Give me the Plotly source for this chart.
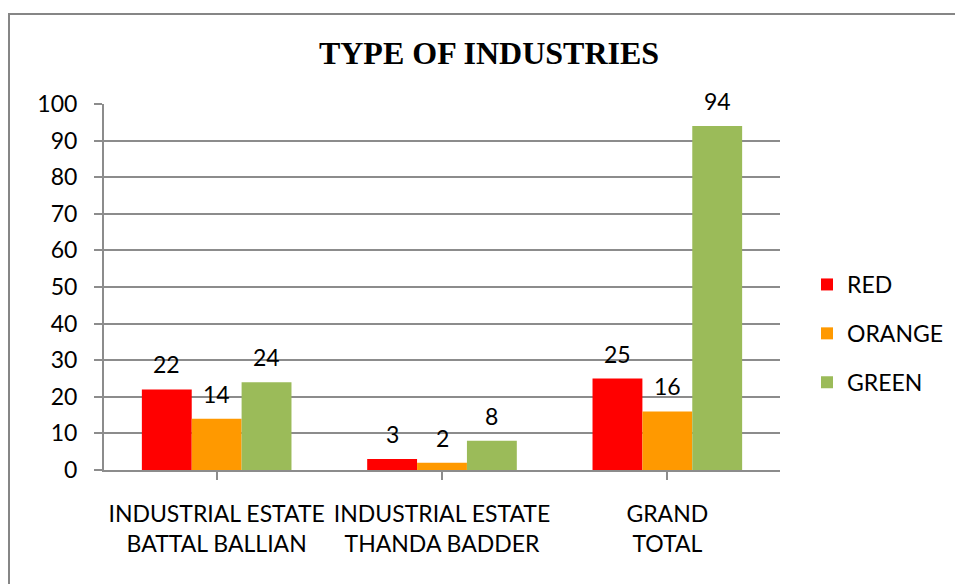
import plotly.graph_objects as go

# Chart data
categories = ["INDUSTRIAL ESTATE<br>BATTAL BALLIAN",
              "INDUSTRIAL ESTATE<br>THANDA BADDER",
              "GRAND<br>TOTAL"]
series_names = ["RED", "ORANGE", "GREEN"]
red_values = [22, 3, 25]
orange_values = [14, 2, 16]
green_values = [24, 8, 94]
y_ticks = [0, 10, 20, 30, 40, 50, 60, 70, 80, 90, 100]

colors = ["#FF0000", "#FF9900", "#9BBB59"]
all_values = [red_values, orange_values, green_values]

W, H = 955, 584
ML, MR, MT, MB = 104, 175, 104, 114
PW, PH = W - ML - MR, H - MT - MB

TXT = "Lato, 'Open Sans', sans-serif"
GRID = "#8C8C8C"

fig = go.Figure()
for i, (name, vals) in enumerate(zip(series_names, all_values)):
    fig.add_trace(go.Bar(
        x=list(range(len(categories))), y=vals, name=name,
        marker=dict(color=colors[i], line=dict(width=0)),
        legendgroup=name,
    ))

# value labels above each bar
bar_px = PW / len(categories) * (1 - 0.336) / 3
for i, vals in enumerate(all_values):
    for j, v in enumerate(vals):
        fig.add_annotation(
            x=j, y=v, xref="x", yref="y", text=str(v), showarrow=False,
            xshift=(i - 1) * bar_px, yshift=25, yanchor="middle",
            font=dict(family=TXT, size=23, color="#000"),
        )

# outer chart frame
def px_x(p):
    return (p - ML) / PW

def px_y(p):
    return (H - MB - p) / PH

fig.add_shape(type="rect", xref="paper", yref="paper",
              x0=px_x(9), x1=px_x(970), y0=px_y(600), y1=px_y(14),
              line=dict(color="#868686", width=2), fillcolor="rgba(0,0,0,0)")

fig.update_layout(
    width=W, height=H,
    margin=dict(l=ML, r=MR, t=MT, b=MB, autoexpand=False),
    paper_bgcolor="white", plot_bgcolor="white",
    barmode="group", bargap=0.336, bargroupgap=0,
    title=dict(text="<b>TYPE OF INDUSTRIES</b>", x=489 / W, xanchor="center",
               y=1 - 53 / H, yanchor="middle",
               font=dict(family="'Liberation Serif', 'Times New Roman', serif",
                         size=32, color="#000")),
    font=dict(family=TXT, size=23, color="#000"),
    legend=dict(x=px_x(807), xanchor="left", y=px_y(263), yanchor="top",
                font=dict(family=TXT, size=23, color="#000"),
                tracegroupgap=16, itemwidth=30, traceorder="grouped",
                bgcolor="rgba(0,0,0,0)"),
    xaxis=dict(
        tickmode="array", tickvals=list(range(len(categories))),
        ticktext=categories, range=[-0.5, len(categories) - 0.5],
        showline=True, linecolor=GRID, linewidth=2,
        ticks="outside", ticklen=8, tickwidth=2, tickcolor=GRID,
        tickson="boundaries", showgrid=False, zeroline=False,
        ticklabelstandoff=14,
        tickfont=dict(family=TXT, size=23, color="#000"),
    ),
    yaxis=dict(
        range=[0, 100], tickvals=y_ticks,
        showline=True, linecolor=GRID, linewidth=2,
        ticks="outside", ticklen=8, tickwidth=2, tickcolor=GRID,
        showgrid=True, gridcolor=GRID, gridwidth=2, zeroline=False,
        ticklabelstandoff=12,
        tickfont=dict(family=TXT, size=23, color="#000"),
    ),
)

fig.write_html("out.html")
